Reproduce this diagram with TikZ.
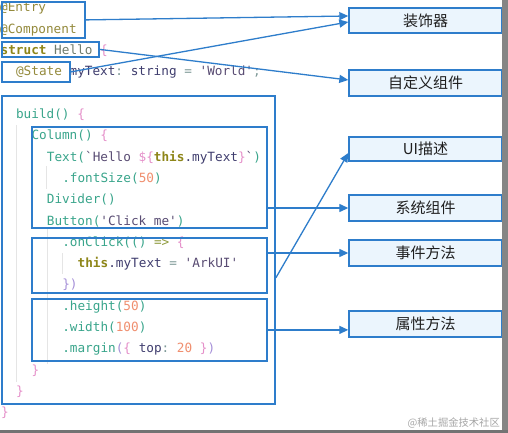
\documentclass[tikz,border=0pt]{standalone}
\usepackage{fontspec}
\setmonofont{DejaVu Sans Mono}
\newfontfamily\cjk{Noto Sans CJK SC}
\usetikzlibrary{arrows.meta}
\definecolor{bblue}{HTML}{2E7DCB}
\definecolor{tagfill}{HTML}{EBF5FD}
\definecolor{cAnno}{HTML}{948A3C}
\definecolor{cKw}{HTML}{8E8619}
\definecolor{cHe}{HTML}{6F7B6B}
\definecolor{cPk}{HTML}{E58FC9}
\definecolor{cId}{HTML}{3F3D6E}
\definecolor{cPu}{HTML}{7F9A98}
\definecolor{cSt}{HTML}{594C73}
\definecolor{cFn}{HTML}{39A58B}
\definecolor{cNu}{HTML}{F08F6F}
\definecolor{cAr}{HTML}{8E9A3C}
\definecolor{cLv}{HTML}{A58FD8}
\newcommand\kAn[1]{\textcolor{cAnno}{#1}}
\newcommand\kKw[1]{\textcolor{cKw}{\bfseries #1}}
\newcommand\kHe[1]{\textcolor{cHe}{#1}}
\newcommand\kPk[1]{\textcolor{cPk}{#1}}
\newcommand\kId[1]{\textcolor{cId}{#1}}
\newcommand\kPu[1]{\textcolor{cPu}{#1}}
\newcommand\kSt[1]{\textcolor{cSt}{#1}}
\newcommand\kFn[1]{\textcolor{cFn}{#1}}
\newcommand\kNu[1]{\textcolor{cNu}{#1}}
\newcommand\kAr[1]{\textcolor{cAr}{#1}}
\newcommand\kLv[1]{\textcolor{cLv}{#1}}
\newcommand\kTh[1]{\textcolor{cKw}{\bfseries #1}}
\tikzset{
  code/.style={anchor=base west, inner sep=0pt, font=\ttfamily\fontsize{12.7}{15}\selectfont},
  cbox/.style={draw=bblue, line width=1.8pt, anchor=north west, inner sep=0pt},
  tag/.style={draw=bblue, line width=1.4pt, fill=tagfill, minimum width=153pt, inner sep=0pt,
    font=\cjk\fontsize{15}{17}\selectfont, text=black!88},
  conn/.style={draw=bblue, line width=1.3pt, -{Triangle[length=9pt,width=8pt]}},
  guide/.style={draw=black!10, line width=1pt}
}
\begin{document}
\begin{tikzpicture}[x=1pt,y=-1pt]
\useasboundingbox (0,0) rectangle (508,433);
\fill[white] (0,0) rectangle (508,433);
% indent guides
\draw[guide] (16,125) -- (16,382);
\draw[guide] (47,228) -- (47,364);
\draw[guide] (46,166) -- (46,189);
\draw[guide] (62,253) -- (62,274);
% code lines
\node[code] (l0) at (0,12) {\kAn{@Entry}};
\node[code] (l1) at (0,33.3) {\kAn{@Component}};
\node[code] (l2) at (0.5,54.6) {\kKw{struct} \kHe{Hello} \kPk{\{}};
\node[code] (l3) at (15.9,75.9) {\kAn{@State} \kId{myText}\kPu{:} \kId{string} \kPu{=} \kSt{'World'}\kPu{;}};
\node[code] (l5) at (15.9,118.5) {\kFn{build()} \kPk{\{}};
\node[code] (l6) at (31.3,139.8) {\kFn{Column()} \kPk{\{}};
\node[code] (l7) at (46.7,161.1) {\kFn{Text(}\kSt{`Hello }\kPk{\$\{}\kTh{this}\kId{.myText}\kPk{\}}\kSt{`}\kFn{)}};
\node[code] (l8) at (62.1,182.4) {\kFn{.fontSize(}\kNu{50}\kFn{)}};
\node[code] (l9) at (46.7,203.7) {\kFn{Divider()}};
\node[code] (l10) at (46.7,225) {\kFn{Button(}\kSt{'Click me'}\kFn{)}};
\node[code] (l11) at (62.1,246.3) {\kFn{.onClick(()} \kAr{=>} \kPk{\{}};
\node[code] (l12) at (77.5,267.6) {\kTh{this}\kId{.myText} \kPu{=} \kSt{'ArkUI'}};
\node[code] (l13) at (62.1,288.9) {\kLv{\}}\kLv{)}};
\node[code] (l14) at (62.1,310.2) {\kFn{.height(}\kNu{50}\kFn{)}};
\node[code] (l15) at (62.1,331.5) {\kFn{.width(}\kNu{100}\kFn{)}};
\node[code] (l16) at (62.1,352.8) {\kFn{.margin}\kLv{(}\kPk{\{} \kId{top}\kPu{:} \kNu{20} \kPk{\}}\kLv{)}};
\node[code] (l17) at (31.3,374.1) {\kPk{\}}};
\node[code] (l18) at (15.9,395.4) {\kPk{\}}};
\node[code] (l19) at (1,416.7) {\kPk{\}}};
% code boxes
\node[cbox, minimum width=83pt, minimum height=36pt] (dec) at (1,1) {};
\node[cbox, minimum width=97pt, minimum height=15pt] (hello) at (1,41) {};
\node[cbox, minimum width=68pt, minimum height=20pt] (state) at (1,61) {};
\node[cbox, minimum width=273pt, minimum height=308pt] (build) at (1,95) {};
\node[cbox, minimum width=235pt, minimum height=101pt] (col) at (31,126) {};
\node[cbox, minimum width=235pt, minimum height=55pt] (click) at (31,237) {};
\node[cbox, minimum width=235pt, minimum height=62pt] (attr) at (31,298) {};
% tags
\node[tag, minimum height=25pt] (zsq) at (425.5,20.5) {装饰器};
\node[tag, minimum height=26pt] (zdy) at (425.5,83) {自定义组件};
\node[tag, minimum height=24pt] (ui) at (425.5,149) {UI描述};
\node[tag, minimum height=26pt] (xt) at (425.5,208) {系统组件};
\node[tag, minimum height=26pt] (sj) at (425.5,253) {事件方法};
\node[tag, minimum height=26pt] (sx) at (425.5,324) {属性方法};
% connectors
\draw[conn] (dec.east) -- ([yshift=4.5pt]zsq.west);
\draw[conn] (state.east) -- ([yshift=-1.5pt]zsq.west);
\draw[conn] (hello.east) -- ([yshift=3pt]zdy.west);
\draw[conn] ([yshift=-28pt]build.east) -- ([yshift=-4pt]ui.west);
\draw[conn] (col.east |- xt.west) -- (xt.west);
\draw[conn] (click.east |- sj.west) -- (sj.west);
\draw[conn] (attr.east) -- (sx.west |- attr.east);
% frame strips
\fill[black!48] (502,0) rectangle (508,433);
\fill[black!55] (0,430) rectangle (508,433);
% watermark
\node[anchor=east, inner sep=0pt, font=\cjk\fontsize{10.3}{12}\selectfont, text=black!35] (wm) at (500,423) {@稀土掘金技术社区};
\end{tikzpicture}
\end{document}
